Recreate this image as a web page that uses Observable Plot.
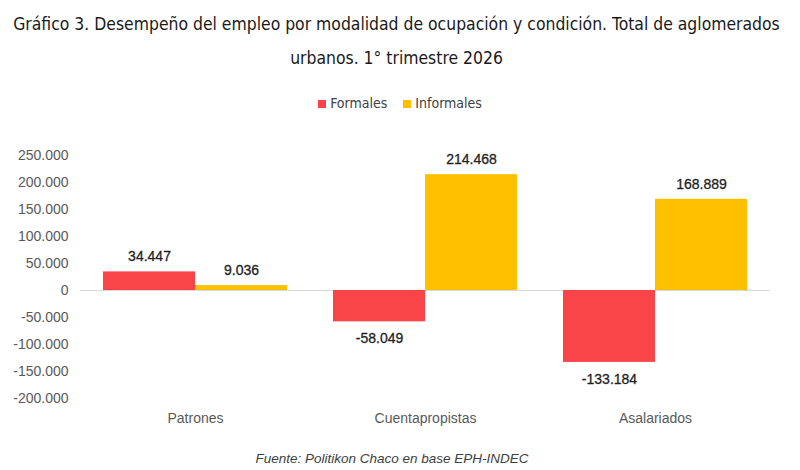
<!DOCTYPE html>
<html><head><meta charset="utf-8">
<script src="https://cdn.jsdelivr.net/npm/d3@7"></script>
<script src="https://cdn.jsdelivr.net/npm/@observablehq/plot@0.6"></script>
<style>
body{margin:0;background:#fff;width:800px;height:470px;overflow:hidden;font-family:"Liberation Sans",Arial,sans-serif}
#title{margin:7px auto 0;width:800px;text-align:center;font-family:"Liberation Sans Narrow","DejaVu Sans Condensed",sans-serif;font-size:17.4px;line-height:34px;color:#1a1a1a;padding-right:7px;box-sizing:border-box}
#legend{margin-top:18px;height:20px;line-height:20px;text-align:center;font-family:"Liberation Sans Narrow","DejaVu Sans Condensed",sans-serif;font-size:14px;color:#404040}
#legend span.sw{display:inline-block;width:8px;height:8px;margin-right:4px;vertical-align:0px}
#legend span.item{margin:0 8px}
#chart{height:327px}
#caption{margin-top:9px;text-align:center;font-style:italic;font-size:13.5px;line-height:20px;color:#404040;padding-right:16px}
</style>
</head><body>
<div id="title">Gráfico 3. Desempeño del empleo por modalidad de ocupación y condición. Total de aglomerados<br>urbanos. 1° trimestre 2026</div>
<div id="legend"></div>
<div id="chart"></div>
<div id="caption">Fuente: Politikon Chaco en base EPH-INDEC</div>
<script>
const categories = ["Patrones", "Cuentapropistas", "Asalariados"];
const series = ["Formales", "Informales"];
const formales = [34447, -58049, -133184];
const informales = [9036, 214468, 168889];
const yTicks = [-200000, -150000, -100000, -50000, 0, 50000, 100000, 150000, 200000, 250000];
const colors = ["#F94548", "#FFC000"];

const loc = d3.formatLocale({decimal: ",", thousands: ".", grouping: [3], currency: ["$", ""], minus: "-"});
const fmt = loc.format(",d");

const rows = [];
categories.forEach((c, i) => {
  rows.push({cat: c, serie: series[0], value: formales[i]});
  rows.push({cat: c, serie: series[1], value: informales[i]});
});

const legend = document.getElementById("legend");
series.forEach((s, i) => {
  const it = document.createElement("span");
  it.className = "item";
  it.innerHTML = `<span class="sw" style="background:${colors[i]}"></span>${s}`;
  legend.appendChild(it);
});

const chart = Plot.plot({
  width: 800,
  height: 327,
  marginTop: 42,
  marginBottom: 42,
  marginLeft: 80,
  marginRight: 30,
  style: {fontSize: "14px", fontFamily: "'Liberation Sans', Arial, sans-serif", color: "#595959", background: "#fff"},
  fx: {domain: categories, padding: 0, label: null, axis: "bottom", tickSize: 0, tickPadding: 15},
  x: {domain: series, paddingInner: 0, paddingOuter: 0.25, axis: null},
  y: {domain: [-200000, 250000], ticks: yTicks, tickFormat: fmt, tickSize: 0, tickPadding: 12, label: null},
  color: {domain: series, range: colors},
  marks: [
    Plot.ruleY([0], {stroke: "#d9d9d9", strokeWidth: 1}),
    Plot.barY(rows, {fx: "cat", x: "serie", y: "value", fill: "serie"}),
    Plot.text(rows.filter(d => d.value >= 0), {fx: "cat", x: "serie", y: "value", text: d => fmt(d.value), dy: -15, fill: "#1f1f1f", fontSize: 14, stroke: "#1f1f1f", strokeWidth: 0.3}),
    Plot.text(rows.filter(d => d.value < 0), {fx: "cat", x: "serie", y: "value", text: d => fmt(d.value), dy: 17, fill: "#1f1f1f", fontSize: 14, stroke: "#1f1f1f", strokeWidth: 0.3})
  ]
});
document.getElementById("chart").appendChild(chart);
</script>
</body></html>
